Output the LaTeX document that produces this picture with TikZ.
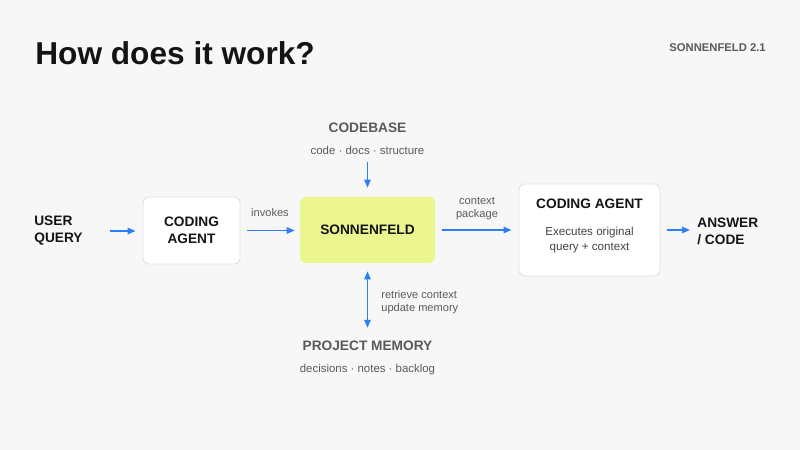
\documentclass[tikz,border=0pt]{standalone}
\usepackage{fontspec}
\setmainfont{Liberation Sans}
\usetikzlibrary{arrows.meta}
\definecolor{bgcol}{HTML}{F7F7F7}
\definecolor{flow}{HTML}{2D7FF9}
\definecolor{ink}{HTML}{141414}
\definecolor{muted}{HTML}{5A5A5A}
\definecolor{boxline}{HTML}{D9E1EC}
\definecolor{core}{HTML}{EBF68F}
\begin{document}
\begin{tikzpicture}[x=0.2mm, y=-0.2mm,
    label/.style={inner sep=0pt, text=ink, align=left, font=\fontsize{7.8}{9.6}\selectfont\bfseries},
    heading/.style={inner sep=0pt, text=muted, font=\fontsize{7.8}{9.6}\selectfont\bfseries},
    note/.style={inner sep=0pt, text=muted, align=center, font=\fontsize{6.3}{7.6}\selectfont},
    card/.style={draw=boxline, line width=0.5pt, fill=white, rounded corners=1.2mm},
    flowarrow/.style={draw=flow, line width=0.85pt, -{Triangle[length=1.6mm,width=1.3mm]}}]
                % background
                \fill[bgcol] (0,0) rectangle (800,450);
                \node[inner sep=0pt, anchor=base west, text=ink, font=\fontsize{18}{20}\selectfont\bfseries] (title) at (35,65) {How does it work?};
                \node[inner sep=0pt, anchor=base east, text=muted, font=\fontsize{6.4}{8}\selectfont\bfseries] (version) at (766,52) {SONNENFELD 2.1};
                % flow row
                \node[label, anchor=west] (user) at (34,231) {USER\\QUERY};
                \node[card, minimum width=19.4mm, minimum height=13.4mm, align=center, text=ink, font=\fontsize{7.8}{9.6}\selectfont\bfseries] (agent) at (191.5,230.5) {CODING\\AGENT};
                \node[fill=core, rounded corners=1.2mm, minimum width=27mm, minimum height=13.2mm, text=ink, font=\fontsize{7.8}{9.6}\selectfont\bfseries] (sonnen) at (367.5,230) {SONNENFELD};
                \node[card, minimum width=28.2mm, minimum height=18.4mm] (executor) at (589.5,230) {};
                \node[inner sep=0pt, text=ink, font=\fontsize{7.8}{9.6}\selectfont\bfseries] (executortitle) at (589.5,204) {CODING AGENT};
                \node[note, text=ink!80, font=\fontsize{6.6}{8.1}\selectfont] (executordesc) at (589.5,240) {Executes original\\query + context};
                \node[label, anchor=west] (answer) at (697,231) {ANSWER\\/ CODE};
                % sources above and below
                \node[heading] (codebase) at (367.5,128) {CODEBASE};
                \node[note, font=\fontsize{6.5}{8}\selectfont] (codesub) at (367.5,150) {code · docs · structure};
                \node[heading] (memory) at (367.5,346) {PROJECT MEMORY};
                \node[note, font=\fontsize{6.5}{8}\selectfont] (memsub) at (367.5,370) {decisions · notes · backlog};
                % connectors
                \draw[flowarrow, shorten <=5.4mm, shorten >=1.4mm] (user.east) -- (agent.west |- user.east);
                \draw[flowarrow, shorten <=1.4mm, shorten >=1mm] (agent.east) -- (sonnen.west |- agent.east);
                \draw[flowarrow, shorten <=1.4mm, shorten >=1.4mm] (sonnen.east) -- (executor.west);
                \draw[flowarrow, shorten <=1.4mm, shorten >=1.4mm] (executor.east) -- (answer.west |- executor.east);
                \draw[flowarrow, shorten <=1.4mm, shorten >=1.8mm] (codesub.south) -- (sonnen.north);
                \draw[flowarrow, {Triangle[length=1.6mm,width=1.3mm]}-{Triangle[length=1.6mm,width=1.3mm]}, shorten <=1.6mm, shorten >=2.6mm] (sonnen.south) -- (memory.north);
                \node[note] (invokes) at (270,213) {invokes};
                \node[note] (ctxpkg) at (477,208.5) {context\\package};
                \node[note, anchor=west, align=left] (retrieve) at (381,302) {retrieve context\\update memory};
            \end{tikzpicture}
\end{document}
